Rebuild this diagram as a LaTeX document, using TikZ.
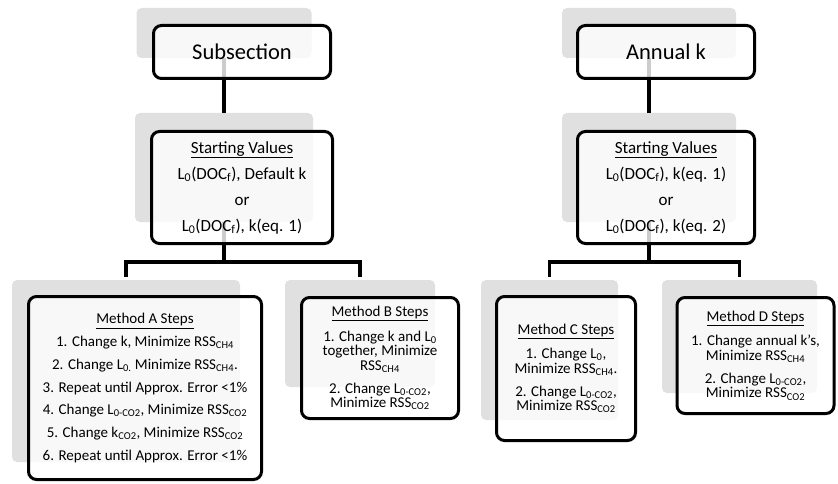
\documentclass[tikz,border=0pt]{standalone}
\usepackage{fontspec}
\setmainfont{Carlito}
\begin{document}
\begin{tikzpicture}[x=1pt,y=-1pt,
        backing/.style={fill=black!12, rounded corners=5pt, inner sep=0pt},
        card/.style={draw=black, line width=3pt, fill=white, fill opacity=0.8,
            text opacity=1, rounded corners=8pt, inner sep=0pt, align=center},
        link/.style={black, line width=3.5pt},
        titlefont/.style={font=\fontsize{22.5}{27}\selectfont},
        startfont/.style={font=\fontsize{17}{26}\selectfont},
        stepfont/.style={font=\fontsize{15}{14.5}\selectfont}]
        \useasboundingbox (0,0) rectangle (838,484);

        % Grey backing boxes.
        \node[backing, minimum width=175, minimum height=50]  (bSub)    at (224,33) {};
        \node[backing, minimum width=174, minimum height=50]  (bAnn)    at (649,33) {};
        \node[backing, minimum width=178, minimum height=109] (bStartL) at (224,167.5) {};
        \node[backing, minimum width=174, minimum height=109] (bStartR) at (649,167.5) {};
        \node[backing, minimum width=228, minimum height=182] (bA) at (126,371) {};
        \node[backing, minimum width=150, minimum height=107] (bB) at (360,333.5) {};
        \node[backing, minimum width=137, minimum height=140] (bC) at (549.5,350) {};
        \node[backing, minimum width=155, minimum height=113] (bD) at (739.5,336.5) {};

        % Connectors, drawn from the backing boxes.
        \coordinate (forkL) at (224,262);
        \coordinate (forkR) at (649,262);
        \draw[link] (bSub.south) -- (bStartL.north);
        \draw[link] (bAnn.south) -- (bStartR.north);
        \draw[link] (bStartL.south) -- (forkL);
        \draw[link] (bStartR.south) -- (forkR);
        \draw[link, shorten <=3pt, shorten >=3pt] (bA.north) |- (forkL) -| (bB.north);
        \draw[link, shorten <=3pt, shorten >=3pt] (bC.north) |- (forkR) -| (bD.north);

        % The boxes with text.
        \node[card, titlefont, minimum width=177, minimum height=53] (sub) at (242,52)
            {Subsection};
        \node[card, titlefont, minimum width=177, minimum height=53] (ann) at (666,52)
            {Annual k};
        \node[card, startfont, minimum width=181, minimum height=112] (startL) at (242,187.5)
            {\underline{Starting Values}\\
             L\textsubscript{0}(DOC\textsubscript{f}), Default k\\
             or\\
             L\textsubscript{0}(DOC\textsubscript{f}), k(eq. 1)};
        \node[card, startfont, minimum width=177, minimum height=112] (startR) at (666,187.5)
            {\underline{Starting Values}\\
             L\textsubscript{0}(DOC\textsubscript{f}), k(eq. 1)\\
             or\\
             L\textsubscript{0}(DOC\textsubscript{f}), k(eq. 2)};
        \node[card, font=\fontsize{15}{22.7}\selectfont, minimum width=233, minimum height=183]
            (methA) at (145,388)
            {\underline{Method A Steps}\\
             1. Change k, Minimize RSS\textsubscript{CH4}\\
             2. Change L\textsubscript{0.} Minimize RSS\textsubscript{CH4}.\\
             3. Repeat until Approx. Error <1\%\\
             4. Change L\textsubscript{0-CO2}, Minimize RSS\textsubscript{CO2}\\
             5. Change k\textsubscript{CO2}, Minimize RSS\textsubscript{CO2}\\
             6. Repeat until Approx. Error <1\%};
        \node[card, stepfont, minimum width=157, minimum height=121] (methB) at (380,358)
            {\underline{Method B Steps}\\[8.5pt]
             1. Change k and L\textsubscript{0}\\
             together, Minimize\\
             RSS\textsubscript{CH4}\\[8.5pt]
             2. Change L\textsubscript{0-CO2},\\
             Minimize RSS\textsubscript{CO2}};
        \node[card, stepfont, minimum width=139, minimum height=144] (methC) at (566,368.5)
            {\underline{Method C Steps}\\[8.5pt]
             1. Change L\textsubscript{0},\\
             Minimize RSS\textsubscript{CH4}.\\[8.5pt]
             2. Change L\textsubscript{0-CO2},\\
             Minimize RSS\textsubscript{CO2}};
        \node[card, stepfont, minimum width=157, minimum height=116] (methD) at (755.5,355.5)
            {\underline{Method D Steps}\\[8.5pt]
             1. Change annual k's,\\
             Minimize RSS\textsubscript{CH4}\\[8.5pt]
             2. Change L\textsubscript{0-CO2},\\
             Minimize RSS\textsubscript{CO2}};
    \end{tikzpicture}
\end{document}
